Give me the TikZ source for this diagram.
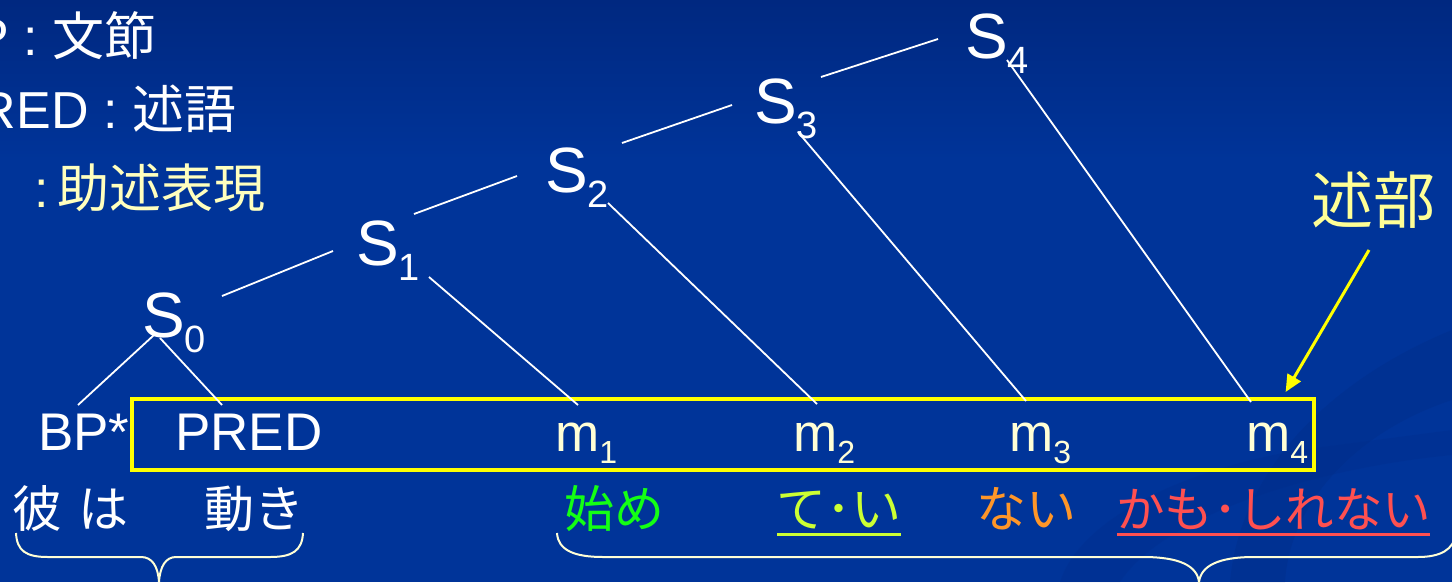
\documentclass[tikz,border=0pt]{standalone}
\usepackage{fontspec}
\setmainfont{Liberation Sans}
\newfontfamily\jp{Noto Sans CJK JP}
\usetikzlibrary{arrows.meta,calc}
\definecolor{bgtop}{RGB}{0,40,128}
\definecolor{bgmain}{RGB}{0,52,153}
\definecolor{bgdark}{RGB}{0,44,135}
\definecolor{cream}{RGB}{255,255,214}
\definecolor{paleyel}{RGB}{255,255,190}
\definecolor{kyellow}{RGB}{255,255,150}
\definecolor{boxyel}{RGB}{255,255,0}
\definecolor{cgreen}{RGB}{20,255,20}
\definecolor{clime}{RGB}{204,255,51}
\definecolor{corange}{RGB}{255,150,40}
\definecolor{cred}{RGB}{255,80,80}
\begin{document}
\begin{tikzpicture}[x=1pt,y=-1pt,
  snode/.style={inner sep=0pt, anchor=base west, text=white, font=\fontsize{64}{70}\selectfont},
  lab/.style={inner sep=0pt, anchor=base west, text=white, font=\fontsize{53}{60}\selectfont},
  mlab/.style={lab, text=cream},
  jlab/.style={inner sep=0pt, anchor=base west, font=\jp\fontsize{50}{56}\selectfont},
  keytext/.style={inner sep=0pt, anchor=base west, text=white, font=\fontsize{52}{58}\selectfont},
  tree/.style={white, line width=1.8pt},
  ul/.style={line width=3pt},
  brace/.style={cream, line width=2pt},
  ybox/.style={draw=boxyel, line width=3.6pt, inner sep=0pt, anchor=north west},
  yarrow/.style={boxyel, line width=3pt, -{Triangle[length=17pt,width=15pt]}}
]
\useasboundingbox (0,0) rectangle (1452,582);
\begin{scope}
\clip (0,0) rectangle (1452,582);
% background
\fill[bgmain] (0,0) rectangle (1452,582);
\shade[top color=bgtop, bottom color=bgmain] (0,0) rectangle (1452,160);
\fill[bgdark, opacity=0.35] (1230,582) .. controls (1240,470) and (1330,380) .. (1452,330)
   -- (1452,400) .. controls (1360,430) and (1290,500) .. (1285,582) -- cycle;
\fill[bgdark, opacity=0.25] (1060,582) .. controls (1080,520) and (1180,470) .. (1300,450)
   -- (1452,430) -- (1452,455) .. controls (1300,470) and (1160,520) .. (1120,582) -- cycle;

% key (top left)
\node[keytext] (k1) at (-25.3,55) {P : {\jp 文節}};
\node[keytext] (k2) at (-21.3,128) {RED : {\jp 述語}};
\node[keytext, text=paleyel] (k3) at (34,207) {:\hspace{9pt}{\jp 助述表現}};

% tree nodes
\node[snode] (S0) at (142,337) {S\raisebox{-15pt}{\fontsize{38}{40}\selectfont 0}};
\node[snode] (S1) at (356,265) {S\raisebox{-15pt}{\fontsize{38}{40}\selectfont 1}};
\node[snode] (S2) at (545,192) {S\raisebox{-15pt}{\fontsize{38}{40}\selectfont 2}};
\node[snode] (S3) at (754,123) {S\raisebox{-15pt}{\fontsize{38}{40}\selectfont 3}};
\node[snode] (S4) at (965,58) {S\raisebox{-15pt}{\fontsize{38}{40}\selectfont 4}};

% leaf labels
\node[lab] (BP) at (38,450) {BP*};
\node[lab] (PRED) at (175,450) {PRED};
\node[mlab] (m1) at (555,451) {m\raisebox{-12pt}{\fontsize{32}{36}\selectfont 1}};
\node[mlab] (m2) at (793,451) {m\raisebox{-12pt}{\fontsize{32}{36}\selectfont 2}};
\node[mlab] (m3) at (1009,451) {m\raisebox{-12pt}{\fontsize{32}{36}\selectfont 3}};
\node[mlab] (m4) at (1246,451) {m\raisebox{-12pt}{\fontsize{32}{36}\selectfont 4}};

% yellow predicate box
\node[ybox, minimum width=1182pt, minimum height=71pt] (pbox) at (130,397) {};

% tree connectors
\draw[tree] ([shift={(80,-41)}]S0.base west) -- ([shift={(-23,-14)}]S1.base west);
\draw[tree] ([shift={(58,-51)}]S1.base west) -- ([shift={(-28,-16)}]S2.base west);
\draw[tree] ([shift={(77,-49)}]S2.base west) -- ([shift={(-22,-18)}]S3.base west);
\draw[tree] ([shift={(67,-46)}]S3.base west) -- ([shift={(-27,-19)}]S4.base west);
\draw[tree] ([shift={(12,-2)}]S0.base west) -- ([shift={(40,-45)}]BP.base west);
\draw[tree] ([shift={(18,1)}]S0.base west) -- ([shift={(47,-45)}]PRED.base west);
\draw[tree] ([shift={(73,12)}]S1.base west) -- ([shift={(23,-46)}]m1.base west);
\draw[tree] ([shift={(63,11)}]S2.base west) -- ([shift={(24,-47)}]m2.base west);
\draw[tree] ([shift={(44,9)}]S3.base west) -- ([shift={(17,-50)}]m3.base west);
\draw[tree] ([shift={(42,2)}]S4.base west) -- ([shift={(5,-49)}]m4.base west);

% 述部 label and arrow
\node[inner sep=0pt, anchor=base west, text=kyellow, font=\jp\fontsize{62}{68}\selectfont] (jb) at (1311,223) {述部};
\draw[yarrow] ([shift={(58,27)}]jb.base west) -- ([shift={(-30,-5)}]pbox.north east);

% Japanese words
\node[jlab, text=white] (w1) at (12,527) {彼\hspace{16pt}は};
\node[jlab, text=white] (w2) at (204,527) {動き};
\node[jlab, text=cgreen] (w3) at (564,527) {始め};
\node[jlab, text=clime] (w4) at (776,527) {て･い};
\node[jlab, text=corange] (w5) at (976,527) {ない};
\node[jlab, text=cred, font=\jp\fontsize{48.5}{54}\selectfont] (w6) at (1116,527) {かも･しれない};
\draw[ul, clime] ([shift={(1,7)}]w4.base west) -- ([shift={(0,7)}]w4.base east);
\draw[ul, cred] ([shift={(1,7)}]w6.base west) -- ([shift={(-2,7)}]w6.base east);

% braces
\draw[brace] (16,533) .. controls (17,551) and (26,557) .. (48,557) -- (141,557)
  .. controls (152,557) and (158,566) .. (159,582)
  .. controls (160,566) and (166,557) .. (176,557) -- (270,557)
  .. controls (292,557) and (302,551) .. (303,533);
\draw[brace] (557,533) .. controls (558,550) and (574,557) .. (603,557) -- (1143,557)
  .. controls (1180,557) and (1197,566) .. (1199,582)
  .. controls (1201,566) and (1218,557) .. (1254,557) -- (1418,557)
  .. controls (1440,557) and (1454,550) .. (1456,533);
\end{scope}
\end{tikzpicture}
\end{document}
